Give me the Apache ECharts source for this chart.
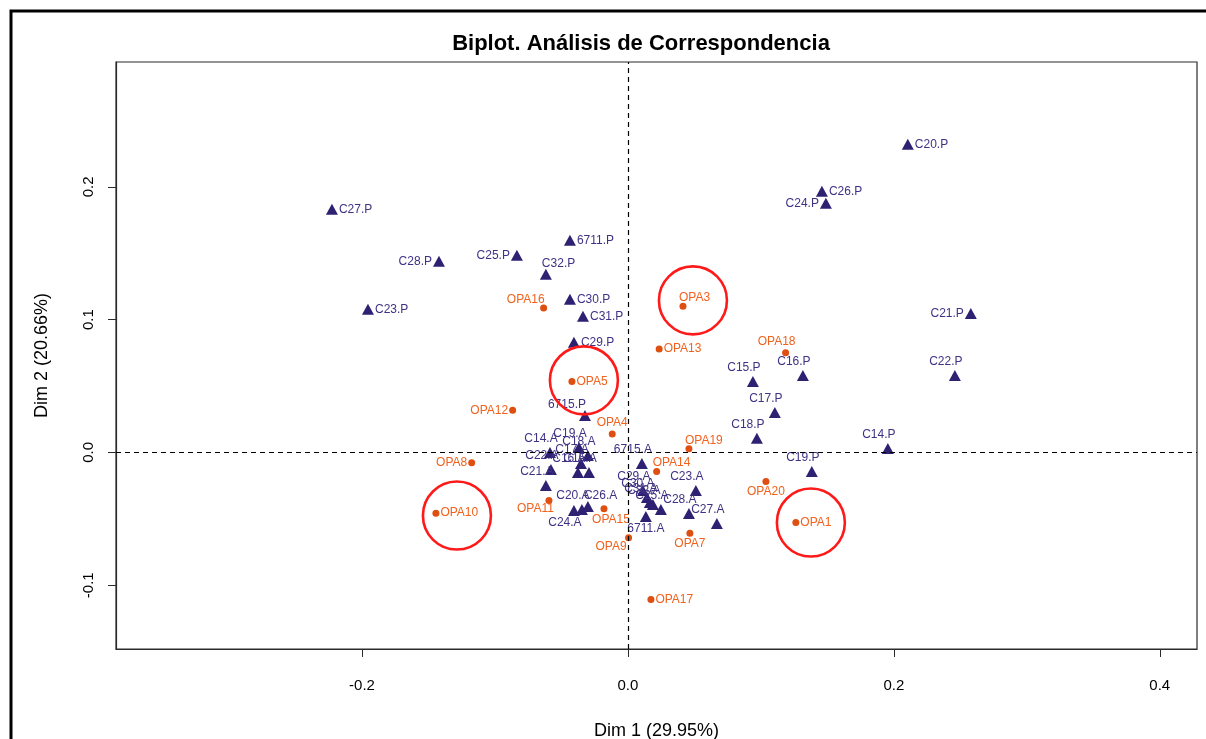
<!DOCTYPE html>
<html>
<head>
<meta charset="utf-8">
<script src="https://cdn.jsdelivr.net/npm/echarts@6/dist/echarts.min.js"></script>
<style>
  html, body { margin: 0; padding: 0; background: #ffffff; }
  #chart { width: 1206px; height: 739px; }
</style>
</head>
<body>
<div id="chart"></div>
<script>
// Column profiles (triangles)
const colNames = [
  'C20.P', 'C26.P', 'C24.P', 'C27.P', '6711.P', 'C28.P', 'C25.P', 'C32.P', 'C30.P', 'C31.P',
  'C23.P', 'C21.P', 'C29.P', 'C15.P', 'C16.P', 'C22.P', 'C17.P', '6715.P', 'C18.P', 'C14.P', 'C19.P',
  'C14.A', 'C19.A', 'C18.A', 'C17.A', 'C16.A', 'C15.A', 'C22.A', 'C21.A', 'C24.A', 'C20.A', 'C26.A',
  '6715.A', 'C29.A', 'C30.A', 'C31.A', 'C32.A', 'C25.A', '6711.A', 'C23.A', 'C28.A', 'C27.A'
];
const colDim1 = [
  0.2105, 0.1459, 0.1489, -0.2226, -0.0436, -0.1421, -0.0835, -0.0617, -0.0436, -0.0338,
  -0.1955, 0.2579, -0.0406, 0.0940, 0.1316, 0.2459, 0.1105, -0.0323, 0.0970, 0.1955, 0.1383,
  -0.0586, -0.0368, -0.0301, -0.0353, -0.0376, -0.0293, -0.0579, -0.0617, -0.0406, -0.0346, -0.0301,
  0.0105, 0.0113, 0.0143, 0.0165, 0.0188, 0.0248, 0.0135, 0.0511, 0.0459, 0.0669
];
const colDim2 = [
  0.2321, 0.1967, 0.1876, 0.1831, 0.1598, 0.1439, 0.1485, 0.1341, 0.1153, 0.1025,
  0.1078, 0.1047, 0.0829, 0.0535, 0.0580, 0.0580, 0.0301, 0.0279, 0.0106, 0.0030, -0.0143,
  0.0000, 0.0038, -0.0023, -0.0083, -0.0151, -0.0151, -0.0128, -0.0249, -0.0437, -0.0430, -0.0407,
  -0.0083, -0.0286, -0.0339, -0.0377, -0.0392, -0.0430, -0.0482, -0.0286, -0.0460, -0.0535
];

// Row profiles (dots)
const rowNames = [
  'OPA3', 'OPA16', 'OPA13', 'OPA18', 'OPA5', 'OPA12', 'OPA4', 'OPA19', 'OPA8', 'OPA14',
  'OPA20', 'OPA10', 'OPA11', 'OPA15', 'OPA1', 'OPA7', 'OPA9', 'OPA17'
];
const rowDim1 = [
  0.0414, -0.0634, 0.0235, 0.1186, -0.0421, -0.0867, -0.0118, 0.0459, -0.1175, 0.0216,
  0.1038, -0.1444, -0.0594, -0.0180, 0.1263, 0.0466, 0.0005, 0.0173
];
const rowDim2 = [
  0.1100, 0.1087, 0.0779, 0.0751, 0.0535, 0.0317, 0.0138, 0.0028, -0.0078, -0.0143,
  -0.0219, -0.0457, -0.0362, -0.0424, -0.0528, -0.0608, -0.0643, -0.1108
];

// Highlight rings drawn around selected rows
const ringNames = ['OPA3', 'OPA5', 'OPA10', 'OPA1'];
const ringDim1 = [0.0489, -0.0331, -0.1286, 0.1376];
const ringDim2 = [0.1145, 0.0543, -0.0475, -0.0528];

const xTicks = [-0.2, 0.0, 0.2, 0.4];
const yTicks = [-0.1, 0.0, 0.1, 0.2];

// Which side of its mark each label sits on
const labelSide = {
  'C20.P': 'r', 'C26.P': 'r', 'C24.P': 'l', 'C27.P': 'r', '6711.P': 'r', 'C28.P': 'l', 'C25.P': 'l',
  'C32.P': 'tr', 'C30.P': 'r', 'C31.P': 'r', 'C23.P': 'r', 'C21.P': 'l', 'C29.P': 'r', 'C15.P': 't',
  'C16.P': 't', 'C22.P': 't', 'C17.P': 't', '6715.P': 'tl', 'C18.P': 't', 'C14.P': 't', 'C19.P': 't',
  'C24.A': 'bw', 'C26.A': 'tr', '6711.A': 'b',
  'OPA3': 'tr', 'OPA16': 'tl', 'OPA13': 'r', 'OPA18': 't', 'OPA5': 'r', 'OPA12': 'l', 'OPA4': 'tc',
  'OPA19': 'tr', 'OPA8': 'l', 'OPA14': 'tr', 'OPA20': 'b', 'OPA10': 'r', 'OPA11': 'bl', 'OPA15': 'be',
  'OPA1': 'r', 'OPA7': 'b', 'OPA9': 'bL', 'OPA17': 'r'
};

const placements = {
  t:  { position: 'top', distance: 2, offset: [-9, 0] },
  tc: { position: 'top', distance: 2, offset: [0, 0] },
  tr: { position: 'top', distance: 2, align: 'left', offset: [-4, 3] },
  tl: { position: 'top', distance: 2, align: 'right', offset: [1, 3] },
  b:  { position: 'bottom', distance: 2, offset: [0, -1] },
  bw: { position: 'bottom', distance: 2, offset: [-9, -1] },
  be: { position: 'bottom', distance: 2, offset: [7, -1] },
  bl: { position: 'bottom', distance: 2, align: 'right', offset: [5, -3] },
  bL: { position: 'bottom', distance: 2, align: 'right', offset: [-2, -3] },
  l:  { position: 'left', distance: 1, offset: [0, 0] },
  r:  { position: 'right', distance: 1, offset: [0, 0] }
};

const COL_COLOR = '#2f2172';
const COL_TEXT = '#3f3184';
const ROW_COLOR = '#e04f12';
const ROW_TEXT = '#f0621e';

function buildItems(names, d1, d2, defaultSide) {
  return names.map((n, i) => {
    const p = placements[labelSide[n] || defaultSide];
    return { name: n, value: [d1[i], d2[i]], label: Object.assign({}, p) };
  });
}

const chart = echarts.init(document.getElementById('chart'), null, { renderer: 'canvas' });

const fontFamily = '"Liberation Sans", Arial, Helvetica, sans-serif';

chart.setOption({
  animation: false,
  backgroundColor: '#ffffff',
  title: {
    text: 'Biplot. Análisis de Correspondencia',
    left: 636,
    top: 28,
    textAlign: 'center',
    textStyle: { fontFamily, fontSize: 22, fontWeight: 'bold', color: '#000' }
  },
  graphic: [{
    type: 'rect',
    shape: { x: 11, y: 11, width: 1400, height: 900 },
    style: { fill: 'none', stroke: '#000', lineWidth: 3 },
    silent: true,
    z: 100
  }],
  grid: {
    left: 116, top: 62, right: 9, bottom: 90,
    show: true, borderColor: '#2b2b2b', borderWidth: 1.2, backgroundColor: 'transparent',
    outerBoundsMode: 'none'
  },
  xAxis: {
    type: 'value', min: -0.385, max: 0.428,
    name: 'Dim 1 (29.95%)', nameLocation: 'middle', nameGap: 73,
    nameTextStyle: { fontFamily, fontSize: 18, color: '#000' },
    axisLine: { show: true, onZero: false, lineStyle: { color: '#2b2b2b', width: 1.2 } },
    axisTick: { show: true, length: 8, customValues: xTicks, lineStyle: { color: '#2b2b2b' } },
    axisLabel: {
      customValues: xTicks, margin: 29, fontFamily, fontSize: 15, color: '#000',
      formatter: v => v.toFixed(1)
    },
    splitLine: { show: false }
  },
  yAxis: {
    type: 'value', min: -0.148, max: 0.294,
    name: 'Dim 2 (20.66%)', nameLocation: 'middle', nameGap: 65,
    nameTextStyle: { fontFamily, fontSize: 18, color: '#000' },
    axisLine: { show: true, onZero: false, lineStyle: { color: '#2b2b2b', width: 1.2 } },
    axisTick: { show: true, length: 8, customValues: yTicks, lineStyle: { color: '#2b2b2b' } },
    axisLabel: {
      customValues: yTicks, margin: 20, rotate: 90, fontFamily, fontSize: 15, color: '#000',
      formatter: v => v.toFixed(1)
    },
    splitLine: { show: false }
  },
  series: [
    {
      name: 'origin',
      type: 'scatter',
      data: [],
      silent: true,
      markLine: {
        silent: true,
        symbol: ['none', 'none'],
        label: { show: false },
        lineStyle: { color: '#000', type: [5, 4], width: 1.2 },
        data: [{ xAxis: 0 }, { yAxis: 0 }]
      }
    },
    {
      name: 'Columnas',
      type: 'scatter',
      symbol: 'triangle',
      symbolSize: [12, 11],
      itemStyle: { color: COL_COLOR, opacity: 1 },
      label: {
        show: true, formatter: '{b}', fontFamily, fontSize: 12, color: COL_TEXT
      },
      data: buildItems(colNames, colDim1, colDim2, 't'),
      z: 3
    },
    {
      name: 'Filas',
      type: 'scatter',
      symbol: 'circle',
      symbolSize: 7,
      itemStyle: { color: ROW_COLOR, opacity: 1 },
      label: {
        show: true, formatter: '{b}', fontFamily, fontSize: 12, color: ROW_TEXT
      },
      data: buildItems(rowNames, rowDim1, rowDim2, 'r'),
      z: 4
    },
    {
      name: 'Destacados',
      type: 'scatter',
      symbol: 'circle',
      symbolSize: 68,
      silent: true,
      itemStyle: { color: 'rgba(0,0,0,0)', borderColor: '#ff1a1a', borderWidth: 2.6, opacity: 1 },
      data: ringNames.map((n, i) => ({ name: n, value: [ringDim1[i], ringDim2[i]] })),
      z: 5
    }
  ]
});
</script>
</body>
</html>
